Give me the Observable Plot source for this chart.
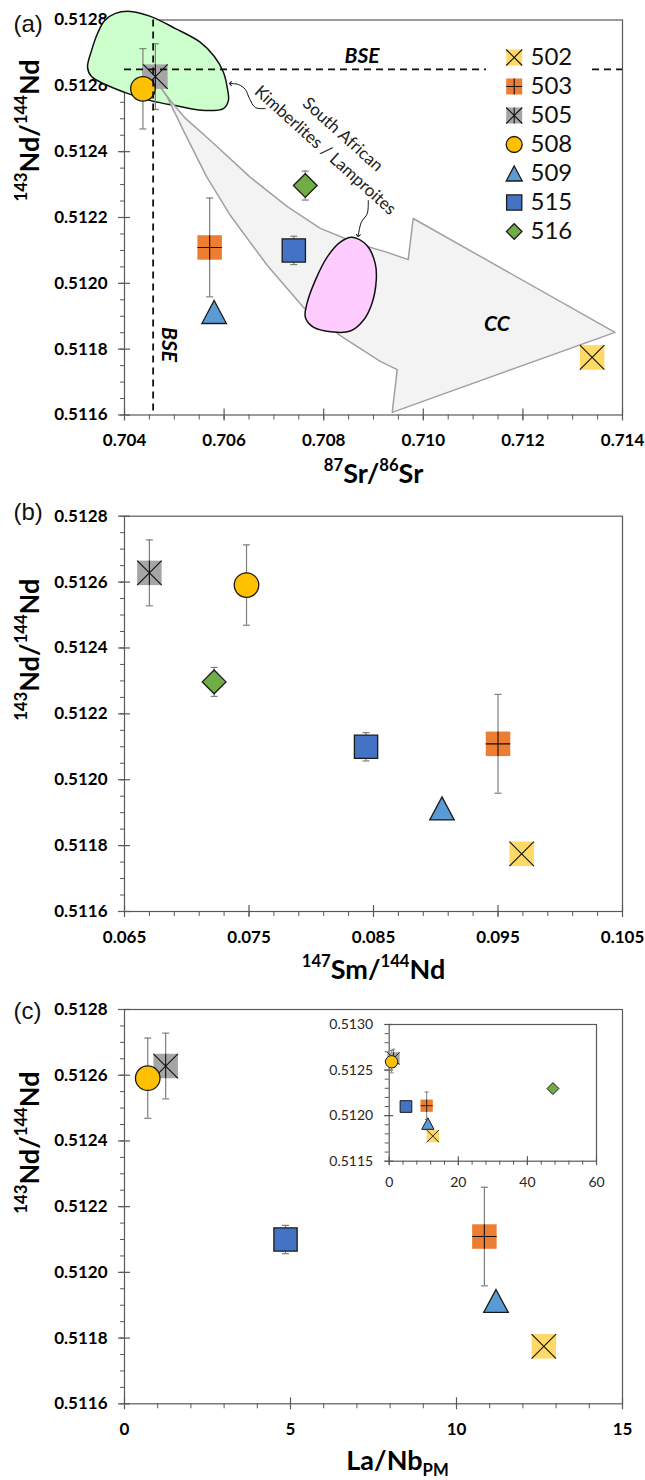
<!DOCTYPE html>
<html><head><meta charset="utf-8">
<script src="https://cdn.jsdelivr.net/npm/d3@7"></script>
<script src="https://cdn.jsdelivr.net/npm/@observablehq/plot@0.6"></script>
<style>
body{margin:0;background:#fff;}
#wrap{position:relative;width:645px;height:1480px;overflow:hidden;}
.pane{position:absolute;left:0;}
</style></head><body><div id="wrap">
<div id="pa" class="pane" style="top:0"></div>
<div id="leg" class="pane" style="top:25px;left:486px"></div>
<div id="pb" class="pane" style="top:495px"></div>
<div id="pc" class="pane" style="top:990px"></div>
<div id="inset" class="pane" style="top:1010px;left:330px"></div>
</div>
<script>
// ---------------- data ----------------
const samples = ["502","503","505","508","509","515","516"];
const sr87   = [0.71339, 0.70571, 0.70462, 0.70437, 0.70580, 0.70740, 0.70763];
const sm147  = [0.0969, 0.0950, 0.0670, 0.0748, 0.0905, 0.0844, 0.0722];
const laNbPM = [12.63, 10.84, 1.24, 0.70, 11.19, 4.85, 47.4];
const nd143  = [0.511775, 0.512109, 0.512628, 0.512591, 0.511913, 0.512100, 0.512297];
const nd2s   = [null, 0.00015, 0.00010, 0.000122, null, 0.000043, 0.000044];

const bseSr = 0.704575;
const bseNd = 0.51265;

// South African kimberlite / lamproite field (green)
const greenSr = [0.703258,0.703338,0.703458,0.703599,0.703819,0.70412,0.704522,0.705023,0.705525,0.705805,0.705986,0.706066,0.706086,0.705986,0.705625,0.705023,0.704522,0.70406,0.703619,0.703338];
const greenNd = [0.512656,0.512707,0.512759,0.512798,0.51282,0.512826,0.512811,0.512774,0.512732,0.512689,0.512641,0.512592,0.512555,0.512531,0.512525,0.51254,0.512555,0.512577,0.512604,0.512628];
// pink field
const pinkSr = [0.708568,0.708869,0.709035,0.709055,0.708969,0.708794,0.708534,0.708193,0.707791,0.707631,0.707665,0.707831,0.708066,0.708333];
const pinkNd = [0.51214,0.512115,0.51206,0.512009,0.511939,0.511887,0.511855,0.511852,0.511867,0.511897,0.511939,0.512009,0.512079,0.512125];
// CC arrow
const ccSr = [0.704682,0.704923,0.705224,0.705725,0.706528,0.70727,0.707932,0.708674,0.709276,0.709697,0.709797,0.713849,0.709376,0.709476,0.709135,0.708333,0.707591,0.706869,0.706127,0.705645,0.705184,0.704863];
const ccNd = [0.512604,0.512555,0.512501,0.512434,0.512322,0.512233,0.512167,0.512121,0.512094,0.512072,0.512197,0.511851,0.511608,0.511738,0.511763,0.511841,0.511927,0.512054,0.512206,0.512325,0.512464,0.512565];
// pointer arrows
const ptr1Sr = [0.706828,0.706628,0.706508,0.706427,0.706287,0.706126];
const ptr1Nd = [0.512531,0.512534,0.512562,0.512589,0.512604,0.512607];
const ptr2Sr = [0.708895,0.708875,0.708754,0.708694];
const ptr2Nd = [0.512252,0.512212,0.512185,0.512145];

// ticks
const ndTicks = [0.5116,0.5118,0.5120,0.5122,0.5124,0.5126,0.5128];
const srTicks = [0.704,0.706,0.708,0.710,0.712,0.714];
const smTicks = [0.065,0.075,0.085,0.095,0.105];
const laTicks = [0,5,10,15];
const insetNdTicks = [0.5115,0.5120,0.5125,0.5130];
const insetLaTicks = [0,20,40,60];

const rows = samples.map((s,i)=>({s, sr:sr87[i], sm:sm147[i], la:laNbPM[i], nd:nd143[i], e:nd2s[i]}));
const pts = (xs, ys) => xs.map((x,i)=>({x, y:ys[i]}));

// ---------------- symbols ----------------
const SQ = s => ({draw(c){const h=s/2;c.moveTo(-h,-h);c.lineTo(h,-h);c.lineTo(h,h);c.lineTo(-h,h);c.closePath();}});
const XS = s => ({draw(c){const h=s/2;c.moveTo(-h,-h);c.lineTo(h,h);c.moveTo(h,-h);c.lineTo(-h,h);}});
const PL = s => ({draw(c){const h=s/2;c.moveTo(-h,0);c.lineTo(h,0);c.moveTo(0,-h);c.lineTo(0,h);}});
const ST = s => ({draw(c){const h=s/2;c.moveTo(-h,-h);c.lineTo(h,h);c.moveTo(h,-h);c.lineTo(-h,h);c.moveTo(0,-h);c.lineTo(0,h);}});
const TR = s => ({draw(c){const w=s/2,h=s*0.47;c.moveTo(0,-h);c.lineTo(w,h);c.lineTo(-w,h);c.closePath();}});
const DI = s => ({draw(c){const h=s/2;c.moveTo(0,-h);c.lineTo(h,0);c.lineTo(0,h);c.lineTo(-h,0);c.closePath();}});
const CI = s => ({draw(c){c.moveTo(s/2,0);c.arc(0,0,s/2,0,2*Math.PI);c.closePath();}});
const CAP = w => ({draw(c){c.moveTo(-w/2,0);c.lineTo(w/2,0);}});

const markerStyle = {
  "502": {fill:"#FFD966", shape:SQ, over:XS},
  "503": {fill:"#ED7D31", shape:SQ, over:PL},
  "505": {fill:"#A5A5A5", shape:SQ, over:ST},
  "508": {fill:"#FFC000", shape:CI, stroke:"#1a1a1a"},
  "509": {fill:"#5B9BD5", shape:TR, stroke:"#1a1a1a"},
  "515": {fill:"#4472C4", shape:SQ, stroke:"#1a1a1a", scale:0.95},
  "516": {fill:"#70AD47", shape:DI, stroke:"#1a1a1a", scale:0.97}
};
function markerMarks(data, opts, size){
  const marks=[];
  for (const s of samples){
    const st=markerStyle[s]; const d=data.filter(r=>r.s===s);
    if(!d.length) continue;
    const sz=size*(st.scale||1);
    marks.push(Plot.dot(d,{...opts, symbol:st.shape(sz), fill:st.fill, stroke:st.stroke||"none", strokeWidth:size>15?1.3:1}));
    if(st.over) marks.push(Plot.dot(d,{...opts, symbol:st.over(sz), fill:"none", stroke:"#111", strokeWidth:size>15?1.1:0.9}));
  }
  return marks;
}
function errMarks(data, xKey, capW, sw){
  const d=data.filter(r=>r.e!=null);
  return [
    Plot.ruleX(d,{x:xKey, y1:r=>r.nd-r.e, y2:r=>r.nd+r.e, stroke:"#7f7f7f", strokeWidth:sw}),
    Plot.dot(d,{x:xKey, y:r=>r.nd-r.e, symbol:CAP(capW), fill:"none", stroke:"#7f7f7f", strokeWidth:sw}),
    Plot.dot(d,{x:xKey, y:r=>r.nd+r.e, symbol:CAP(capW), fill:"none", stroke:"#7f7f7f", strokeWidth:sw})
  ];
}
function axes({xMaj,xMin,yMaj,yMin,xFmt,yFmt,fs,fw,maj,minX,minY,padX,padY,col,labCol}){
  const blank=()=>"";
  return [
    Plot.frame({stroke:col, strokeWidth:1.2}),
    Plot.axisY(yMin,{tickSize:minY, tickFormat:blank, label:null, stroke:col}),
    Plot.axisY(yMaj,{tickSize:2*maj, dx:maj, tickFormat:blank, label:null, stroke:col, strokeWidth:1.2}),
    Plot.axisY(yMaj,{tickSize:0, tickPadding:padY, tickFormat:yFmt, label:null, fontSize:fs, fontWeight:fw, fill:labCol}),
    Plot.axisX(xMin,{tickSize:minX, tickFormat:blank, label:null, stroke:col}),
    Plot.axisX(xMaj,{tickSize:2*maj, dy:-maj, tickFormat:blank, label:null, stroke:col, strokeWidth:1.2}),
    Plot.axisX(xMaj,{tickSize:0, tickPadding:padX, tickFormat:xFmt, label:null, fontSize:fs, fontWeight:fw, fill:labCol})
  ];
}
const f4=d3.format(".4f"), f3=d3.format(".3f");
const ndMinor=d3.range(0.5116,0.51281,0.00005);
const yTitle="^{143}Nd/^{144}Nd";
function titles(xTitle, xdx, xdy, ydy, tag, tagdy){
  return [
    Plot.text([xTitle],{text:d=>d, frameAnchor:"bottom", dx:xdx, dy:xdy, lineAnchor:"bottom", fontSize:27, fontWeight:"bold", fill:"#000"}),
    Plot.text([yTitle],{text:d=>d, frameAnchor:"left", dx:-86, dy:ydy, rotate:-90, lineAnchor:"bottom", fontSize:27, fontWeight:"bold", fill:"#000"}),
    Plot.text([tag],{text:d=>d, frameAnchor:"top-left", dx:-111, dy:tagdy, textAnchor:"start", lineAnchor:"middle", fontSize:24, fontFamily:"Liberation Sans, Arial, sans-serif", fill:"#111"})
  ];
}
function richify(svg){
  svg.querySelectorAll("text").forEach(t=>{
    const s=t.textContent;
    if(!/[\^_]\{/.test(s)) return;
    const F=parseFloat(getComputedStyle(t).fontSize)||27;
    t.textContent="";
    const re=/([\^_])\{([^}]*)\}|([^\^_]+)/g;
    let m, shift=0;
    while((m=re.exec(s))){
      const ts=document.createElementNS("http://www.w3.org/2000/svg","tspan");
      if(m[1]){
        const target=m[1]==="^"?-0.42*F:0.2*F;
        ts.setAttribute("font-size",(0.62*F).toFixed(1));
        ts.setAttribute("dy",(target-shift).toFixed(1));
        shift=target; ts.textContent=m[2];
      } else {
        ts.setAttribute("dy",(-shift).toFixed(1)); shift=0; ts.textContent=m[3];
      }
      t.appendChild(ts);
    }
  });
}
const baseStyle={fontFamily:"Lato, 'Open Sans', sans-serif", background:"transparent", overflow:"visible"};
const axStyle={fs:17, fw:"bold", maj:6, minX:5, minY:4, padX:19, padY:17, col:"#595959", labCol:"#000"};

// ---------------- panel (a) ----------------
const pa = Plot.plot({
  width:645, height:495, marginLeft:124, marginRight:23, marginTop:19.5, marginBottom:80.5,
  x:{domain:[0.704,0.714], label:null}, y:{domain:[0.5116,0.5128], label:null},
  style:baseStyle,
  marks:[
    ...axes({...axStyle, xMaj:srTicks, xMin:d3.range(0.704,0.7141,0.0005), yMaj:ndTicks, yMin:ndMinor, xFmt:f3, yFmt:f4}),
    Plot.line(pts(greenSr,greenNd),{x:"x",y:"y",curve:"catmull-rom-closed",fill:"#CCFFCC",stroke:"#111",strokeWidth:1.5}),
    Plot.line(pts(ccSr,ccNd),{x:"x",y:"y",curve:"linear-closed",fill:"#F2F2F2",fillOpacity:0.95,stroke:"#A0A0A0",strokeWidth:1.5}),
    Plot.line(pts(pinkSr,pinkNd),{x:"x",y:"y",curve:"catmull-rom-closed",fill:"#FFCCFF",stroke:"#111",strokeWidth:1.5}),
    Plot.line(pts(ptr1Sr,ptr1Nd),{x:"x",y:"y",curve:"catmull-rom",stroke:"#111",strokeWidth:1,markerEnd:"arrow"}),
    Plot.line(pts(ptr2Sr,ptr2Nd),{x:"x",y:"y",curve:"catmull-rom",stroke:"#111",strokeWidth:1,markerEnd:"arrow"}),
    Plot.text(["South African"],{x:0.708383,y:0.512452,text:d=>d,rotate:42,fontSize:17,fill:"#222"}),
    Plot.text(["Kimberlites / Lamproites"],{x:0.708032,y:0.512404,text:d=>d,rotate:42,fontSize:17,fill:"#222"}),
    Plot.text(["CC"],{x:0.711476,y:0.511877,text:d=>d,fontSize:21,fontWeight:"bold",fontStyle:"italic",fill:"#000"}),
    ...errMarks(rows,"sr",7,1.2),
    ...markerMarks(rows,{x:"sr",y:"nd"},24.5),
    Plot.ruleY([bseNd],{stroke:"#111",strokeWidth:1.8,strokeDasharray:"7,5"}),
    Plot.ruleX([bseSr],{stroke:"#111",strokeWidth:1.8,strokeDasharray:"7,5"}),
    Plot.text(["BSE"],{x:0.70877,y:bseNd,dy:-6,lineAnchor:"bottom",text:d=>d,fontSize:21,fontWeight:"bold",fontStyle:"italic",fill:"#000"}),
    Plot.text(["BSE"],{x:bseSr,y:0.511814,dx:15.5,rotate:90,text:d=>d,fontSize:21,fontWeight:"bold",fontStyle:"italic",fill:"#000"}),
    ...titles("^{87}Sr/^{86}Sr",0,67.5,-16,"(a)",4)
  ]
});
document.getElementById("pa").appendChild(pa); richify(pa);

// legend
const leg = Plot.plot({
  width:102, height:232, margin:0,
  y:{type:"point", domain:samples, range:[17.7,221], axis:null},
  style:{...baseStyle, background:"white"},
  marks:[
    ...markerMarks(rows,{y:"s",frameAnchor:"left",dx:27.7},16),
    Plot.text(rows,{y:"s",text:"s",frameAnchor:"left",dx:44,textAnchor:"start",fontSize:24,fill:"#111"})
  ]
});
document.getElementById("leg").appendChild(leg);

// ---------------- panel (b) ----------------
const pb = Plot.plot({
  width:645, height:495, marginLeft:124, marginRight:23, marginTop:20.7, marginBottom:79,
  x:{domain:[0.065,0.105], label:null}, y:{domain:[0.5116,0.5128], label:null},
  style:baseStyle,
  marks:[
    ...axes({...axStyle, xMaj:smTicks, xMin:d3.range(0.065,0.1051,0.002), yMaj:ndTicks, yMin:ndMinor, xFmt:f3, yFmt:f4}),
    ...errMarks(rows,"sm",7,1.2),
    ...markerMarks(rows,{x:"sm",y:"nd"},24.5),
    ...titles("^{147}Sm/^{144}Nd",0,67,7,"(b)",-3.5)
  ]
});
document.getElementById("pb").appendChild(pb); richify(pb);

// ---------------- panel (c) ----------------
const inMain = rows.filter(r=>r.la<=15);
const pc = Plot.plot({
  width:645, height:490, marginLeft:124, marginRight:23, marginTop:19, marginBottom:76.7,
  x:{domain:[0,15], label:null}, y:{domain:[0.5116,0.5128], label:null},
  style:baseStyle,
  marks:[
    ...axes({...axStyle, xMaj:laTicks, xMin:d3.range(0,15.01,1), yMaj:ndTicks, yMin:ndMinor, xFmt:d=>String(d), yFmt:f4}),
    ...errMarks(inMain,"la",7,1.2),
    ...markerMarks(inMain,{x:"la",y:"nd"},24.5),
    ...titles("La/Nb_{PM}",24,66.5,7,"(c)",2)
  ]
});
document.getElementById("pc").appendChild(pc); richify(pc);

// inset
const ins = Plot.plot({
  width:280, height:190, marginLeft:58.7, marginRight:14, marginTop:14, marginBottom:39.3,
  x:{domain:[0,60], label:null}, y:{domain:[0.5115,0.5130], label:null},
  style:baseStyle,
  marks:[
    ...axes({xMaj:insetLaTicks, xMin:d3.range(0,60.1,4), yMaj:insetNdTicks, yMin:d3.range(0.5115,0.51301,0.0001), xFmt:d=>String(d), yFmt:f4, fs:14, fw:"normal", maj:4.5, minX:4, minY:4, padX:16, padY:16, col:"#595959", labCol:"#262626"}),
    ...errMarks(rows,"la",4,1),
    ...markerMarks(rows,{x:"la",y:"nd"},12.3)
  ]
});
document.getElementById("inset").appendChild(ins);
</script></body></html>
